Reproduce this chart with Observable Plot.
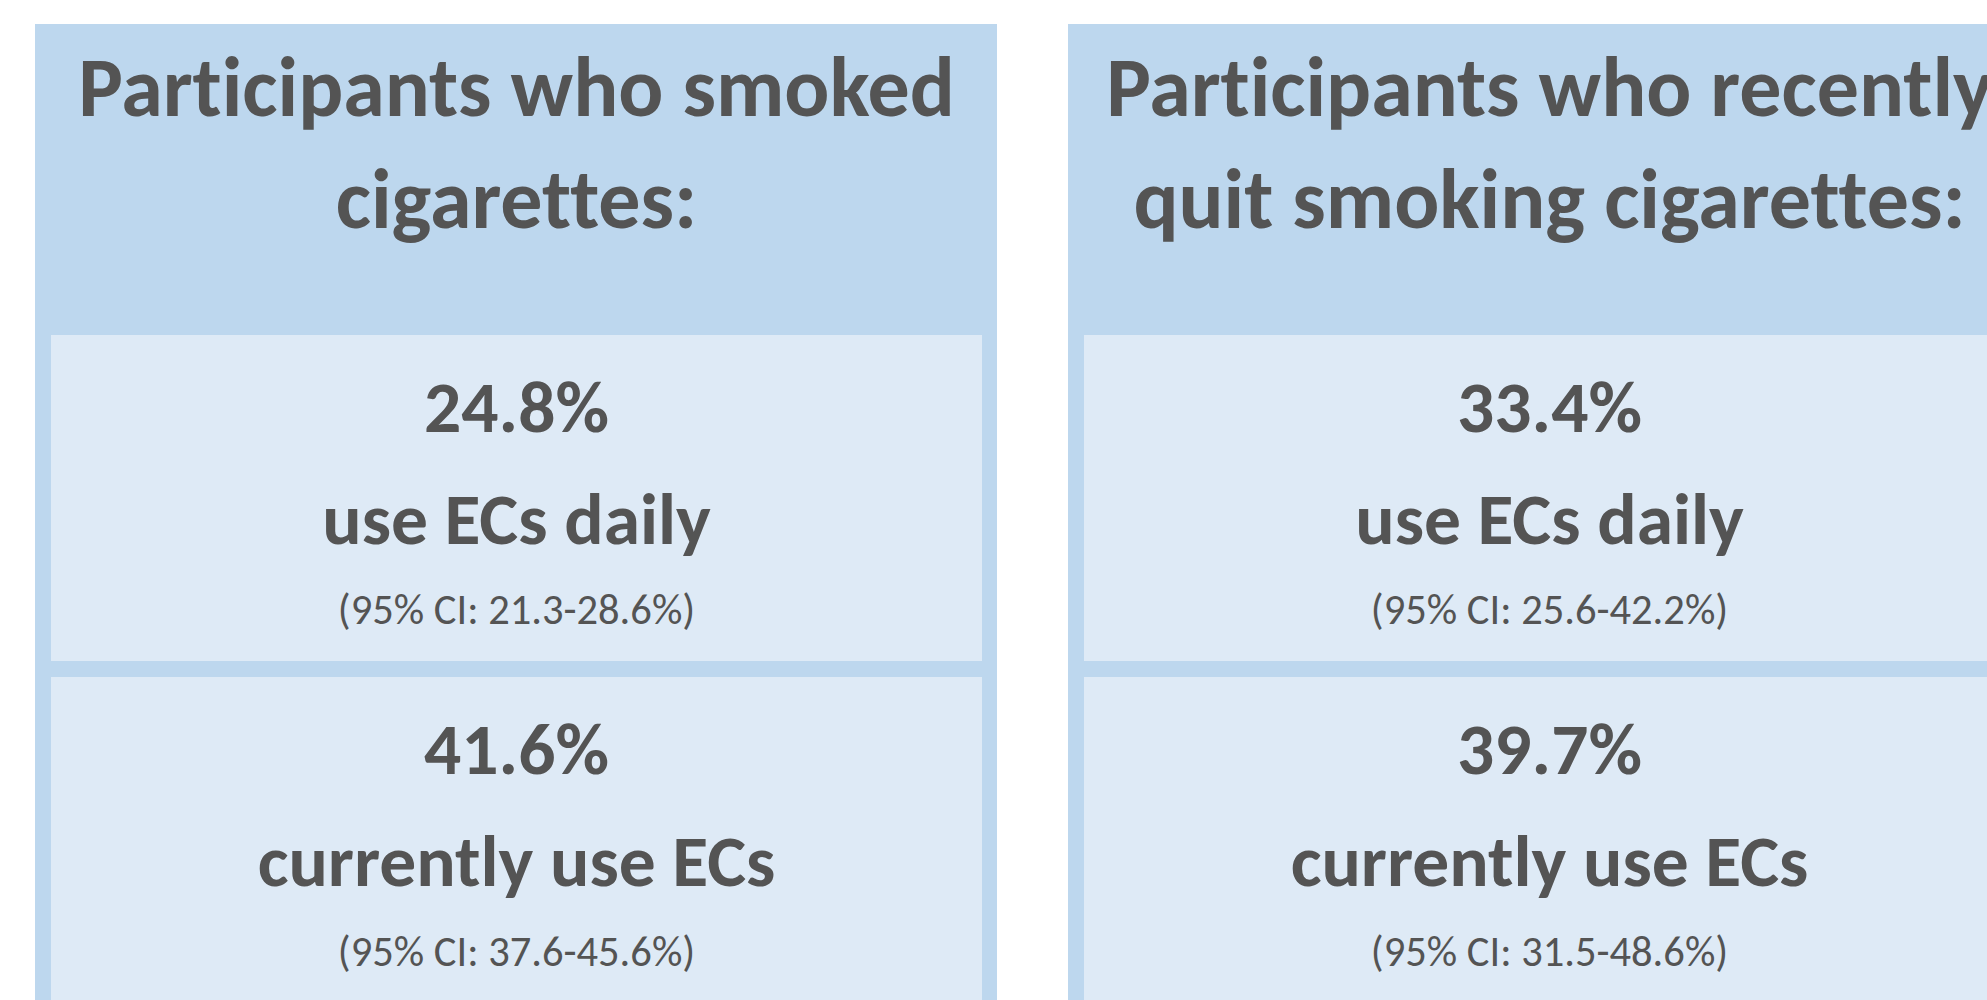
<!DOCTYPE html>
<html><head><meta charset="utf-8">
<script src="https://cdn.jsdelivr.net/npm/d3@7"></script>
<script src="https://cdn.jsdelivr.net/npm/@observablehq/plot@0.6"></script>
<style>
html,body{margin:0;padding:0;background:#fff;overflow:hidden;width:1987px;height:1000px;}
#chart svg{overflow:hidden;display:block}
#chart svg text{font-variant-ligatures:none;font-feature-settings:"liga" 0,"clig" 0,"dlig" 0;}
</style></head><body><div id="chart"></div>
<script>
const groupKeys = ["smoked", "quit"];
const groupTitles = ["Participants who smoked\ncigarettes:", "Participants who recently\nquit smoking cigarettes:"];
const measures = ["use ECs daily", "currently use ECs"];
const smokedPct = [24.8, 41.6];
const smokedCiLow = [21.3, 37.6];
const smokedCiHigh = [28.6, 45.6];
const quitPct = [33.4, 39.7];
const quitCiLow = [25.6, 31.5];
const quitCiHigh = [42.2, 48.6];

const FONT = "Carlito, Calibri, Lato, sans-serif";
const TEXT = "#545454", OUTER = "#BDD7EE", INNER = "#DEEAF6";
const fmt = d3.format(".1f");
const cells = [];
groupKeys.forEach((g, gi) => {
  const pct = gi === 0 ? smokedPct : quitPct;
  const lo = gi === 0 ? smokedCiLow : quitCiLow;
  const hi = gi === 0 ? smokedCiHigh : quitCiHigh;
  measures.forEach((m, mi) => cells.push({group: g, measure: m, pct: pct[mi], lo: lo[mi], hi: hi[mi]}));
});
const headers = groupKeys.map((g, i) => ({group: g, row: "header", title: groupTitles[i]}));

const svg = Plot.plot({
  width: 1987, height: 1000, margin: 0,
  x: {type: "band", domain: groupKeys, range: [35, 2030], paddingInner: 71 / 1033, paddingOuter: 0, axis: null},
  y: {type: "band", domain: ["header", ...measures], range: [-7, 1003], paddingInner: 16 / 342, paddingOuter: 0, axis: null},
  style: {background: "white", fontFamily: FONT, color: TEXT},
  marks: [
    Plot.cell(headers, {x: "group", y: "row", fill: OUTER, insetTop: 31, insetBottom: -16}),
    Plot.cell(cells, {x: "group", y: "measure", fill: OUTER, insetTop: -16, insetBottom: -16}),
    Plot.cell(cells, {x: "group", y: "measure", fill: INNER, insetLeft: 16, insetRight: 15}),
    Plot.text(headers, {x: "group", y: "row", text: "title", fontSize: 84, fontWeight: 700, lineAnchor: "bottom", lineHeight: 112 / 84, dy: 71, fill: TEXT}),
    Plot.text(cells, {x: "group", y: "measure", text: d => fmt(d.pct) + "%", fontSize: 73.5, fontWeight: 700, lineAnchor: "bottom", dy: -67, fill: TEXT}),
    Plot.text(cells, {x: "group", y: "measure", text: "measure", fontSize: 73.5, fontWeight: 700, lineAnchor: "bottom", dy: 45, fill: TEXT}),
    Plot.text(cells, {x: "group", y: "measure", text: d => `(95% CI: ${fmt(d.lo)}-${fmt(d.hi)}%)`, fontSize: 42.5, fontWeight: 400, lineAnchor: "bottom", dy: 125, fill: TEXT})
  ]
});
document.getElementById("chart").appendChild(svg);
</script>
</body></html>
